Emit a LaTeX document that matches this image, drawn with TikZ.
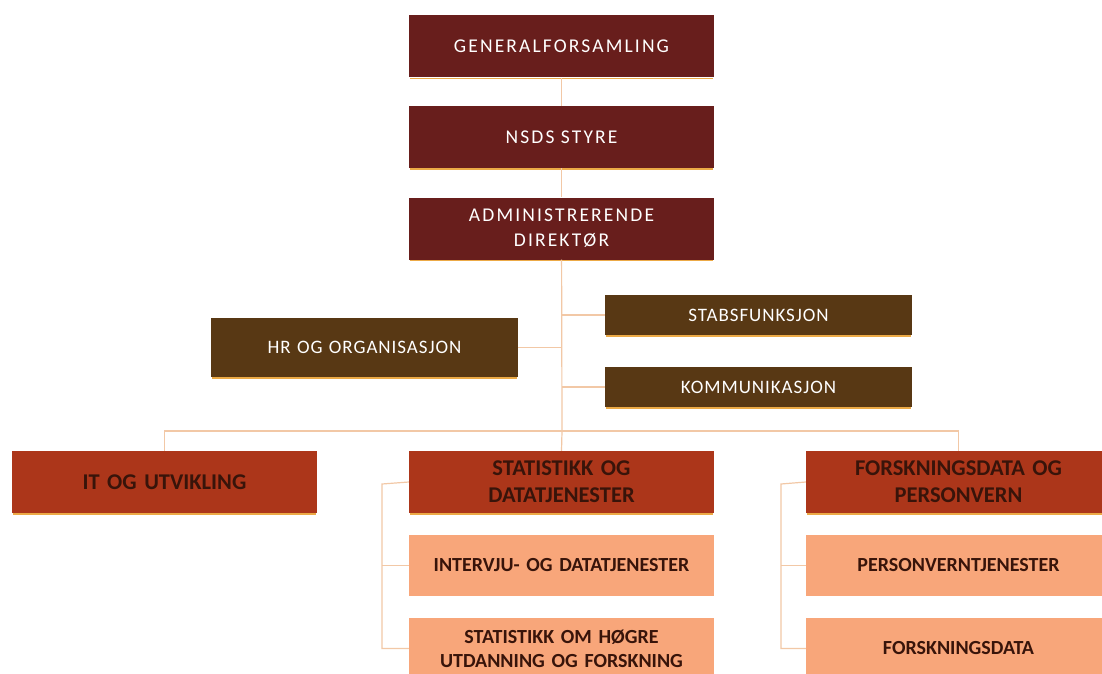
\documentclass[tikz,border=0pt]{standalone}
\usepackage{fontspec}
\setmainfont{Carlito}
\definecolor{maroon}{RGB}{104,30,28}
\definecolor{olivebrown}{RGB}{88,56,20}
\definecolor{rust}{RGB}{172,54,26}
\definecolor{peach}{RGB}{248,166,122}
\definecolor{linecol}{RGB}{242,200,166}
\definecolor{edgecol}{RGB}{236,170,70}
\definecolor{darktext}{RGB}{56,20,10}
\tikzset{
  box/.style={rectangle, minimum width=305pt, inner sep=0pt, align=center, text width=300pt},
  topbox/.style={box, fill=maroon, minimum height=62pt, text=white, font=\fontsize{19.5}{25}\selectfont\addfontfeature{LetterSpace=11}},
  staffbox/.style={box, fill=olivebrown, minimum width=307pt, text=white, font=\fontsize{19}{24}\selectfont\addfontfeature{LetterSpace=5}},
  deptbox/.style={box, fill=rust, minimum height=62pt, text=darktext, font=\fontsize{22.5}{27}\selectfont\bfseries},
  subbox/.style={box, fill=peach, minimum height=61pt, text=darktext, font=\fontsize{20}{24}\selectfont\bfseries},
  conn/.style={draw=linecol, line width=1.2pt},
  edge/.style={draw=edgecol, line width=1.5pt}
}
\begin{document}
\begin{tikzpicture}[x=1pt,y=-1pt]
\useasboundingbox (0,0) rectangle (1102,674);
\clip (0,0) rectangle (1102,674);
\fill[white] (0,0) rectangle (1102,674);
\coordinate (hub) at (562,431);
\coordinate (sl) at (382,484);
\coordinate (fl) at (781,484);
% nodes
\node[topbox] (gf) at (561.5,46.5) {GENERALFORSAMLING};
\node[topbox] (styre) at (561.5,137) {NSDS STYRE};
\node[topbox] (dir) at (561.5,228.5) {ADMINISTRERENDE\\DIREKTØR};
\node[staffbox, minimum height=40pt] (stab) at (758.5,315) {STABSFUNKSJON};
\node[staffbox, minimum height=40pt] (komm) at (758.5,387) {KOMMUNIKASJON};
\node[staffbox, minimum height=59pt] (hr) at (364.5,347.5) {HR OG ORGANISASJON};
\node[deptbox] (it) at (164.5,482) {IT OG UTVIKLING};
\node[deptbox] (stat) at (561.5,482) {STATISTIKK OG\\DATATJENESTER};
\node[deptbox] (forsk) at (958.5,482) {FORSKNINGSDATA OG\\PERSONVERN};
\node[subbox] (intv) at (561.5,565.5) {INTERVJU- OG DATATJENESTER};
\node[subbox] (hogre) at (561.5,648.5) {STATISTIKK OM HØGRE\\UTDANNING OG FORSKNING};
\node[subbox] (pvt) at (958.5,565.5) {PERSONVERNTJENESTER};
\node[subbox] (fd) at (958.5,648.5) {FORSKNINGSDATA};
% bottom edges of dark boxes
\foreach \n in {gf,styre,dir,stab,komm,hr,it,stat,forsk}{
  \draw[edge] ([xshift=1pt,yshift=-0.8pt]\n.south west) -- ([xshift=-1pt,yshift=-0.8pt]\n.south east);
}
% connectors
\draw[conn] (gf) -- (styre);
\draw[conn] (styre) -- (dir);
\draw[conn] (dir) -- (hub);
\draw[conn] (hr.east) -- (hr.east -| hub);
\draw[conn] (stab.west) -- (stab.west -| hub);
\draw[conn] (komm.west) -- (komm.west -| hub);
\draw[conn] (it.north) |- (hub) -| (forsk.north);
\draw[conn] (hub) -- (stat.north);
\draw[conn] (stat.west) -- (sl) |- (hogre.west);
\draw[conn] (intv.west) -- (intv.west -| sl);
\draw[conn] (forsk.west) -- (fl) |- (fd.west);
\draw[conn] (pvt.west) -- (pvt.west -| fl);
\end{tikzpicture}
\end{document}
